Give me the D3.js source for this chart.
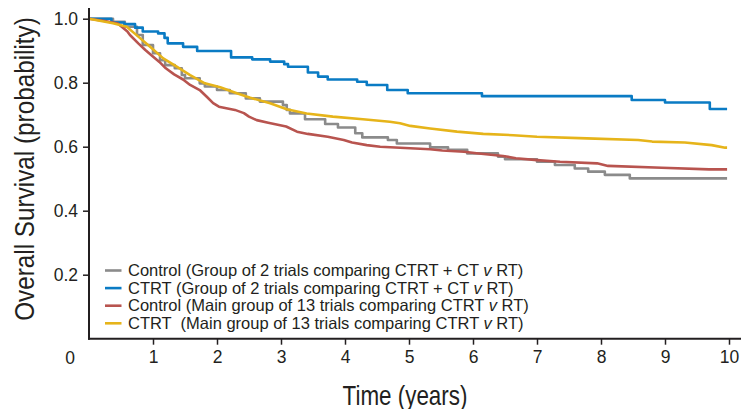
<!DOCTYPE html>
<html>
<head>
<meta charset="utf-8">
<script src="https://cdn.jsdelivr.net/npm/d3@7"></script>
<style>
  body { margin: 0; background: #fff; }
  svg text { fill: #231f20; white-space: pre; }
</style>
</head>
<body>
<script>
// survival curves (time in years, survival probability)
var grayT = [0, 0.375, 0.56, 0.75, 0.84, 1.0, 1.11, 1.19, 1.34, 1.45, 1.5, 1.73, 1.81, 2.0, 2.2, 2.45, 2.67, 3.03, 3.09, 3.14, 3.375, 3.69, 3.89, 4.16, 4.27, 4.67, 4.81, 5.33, 5.61, 5.91, 6.39, 6.5, 7.0, 7.28, 7.59, 7.8, 8.06, 8.45, 9.97];
var grayS = [1.0, 0.99, 0.975, 0.949, 0.918, 0.892, 0.87, 0.855, 0.845, 0.824, 0.814, 0.798, 0.788, 0.777, 0.767, 0.751, 0.741, 0.73, 0.715, 0.704, 0.686, 0.671, 0.66, 0.642, 0.629, 0.621, 0.61, 0.598, 0.59, 0.579, 0.569, 0.561, 0.553, 0.543, 0.532, 0.522, 0.512, 0.501, 0.501];

var blueT = [0, 0.35, 0.55, 0.72, 0.84, 1.08, 1.18, 1.23, 1.47, 1.69, 2.22, 2.55, 2.83, 3.05, 3.11, 3.42, 3.58, 3.73, 4.19, 4.34, 4.66, 4.98, 6.14, 8.48, 9.0, 9.7, 9.97];
var blueS = [1.0, 0.988, 0.983, 0.972, 0.96, 0.954, 0.94, 0.923, 0.912, 0.899, 0.879, 0.873, 0.866, 0.858, 0.85, 0.832, 0.819, 0.81, 0.803, 0.793, 0.777, 0.767, 0.758, 0.746, 0.738, 0.718, 0.718];

var redT = [0, 0.25, 0.45, 0.6, 0.64, 0.77, 0.88, 0.98, 1.1, 1.2, 1.33, 1.47, 1.58, 1.73, 1.84, 1.94, 2.03, 2.28, 2.42, 2.5, 2.62, 2.8, 3.08, 3.25, 3.42, 3.73, 3.98, 4.11, 4.34, 4.55, 5.33, 5.52, 5.86, 6.09, 6.47, 6.67, 7.0, 7.36, 7.94, 8.11, 8.95, 9.69, 9.97];
var redS = [1.0, 0.993, 0.985, 0.96, 0.949, 0.923, 0.902, 0.885, 0.865, 0.845, 0.826, 0.81, 0.793, 0.777, 0.756, 0.736, 0.725, 0.715, 0.705, 0.694, 0.683, 0.675, 0.663, 0.647, 0.64, 0.631, 0.621, 0.613, 0.605, 0.6, 0.592, 0.588, 0.584, 0.579, 0.571, 0.564, 0.558, 0.553, 0.548, 0.54, 0.534, 0.529, 0.529];

var yellowT = [0, 0.375, 0.59, 0.77, 0.95, 1.16, 1.37, 1.58, 1.81, 2.05, 2.31, 2.52, 2.83, 3.09, 3.4, 3.81, 4.28, 4.7, 4.86, 5.02, 5.33, 5.75, 6.16, 6.63, 7.0, 7.78, 8.58, 8.8, 9.31, 9.73, 9.94, 9.97];
var yellowS = [1.0, 0.986, 0.975, 0.944, 0.913, 0.876, 0.85, 0.824, 0.798, 0.786, 0.767, 0.753, 0.736, 0.717, 0.704, 0.694, 0.686, 0.678, 0.673, 0.665, 0.657, 0.647, 0.64, 0.636, 0.631, 0.626, 0.621, 0.616, 0.613, 0.605, 0.597, 0.597];

var legendLabels = [
  "Control (Group of 2 trials comparing CTRT + CT ",
  "CTRT (Group of 2 trials comparing CTRT + CT ",
  "Control (Main group of 13 trials comparing CTRT ",
  "CTRT  (Main group of 13 trials comparing CTRT "
];
var xTicks = [1, 2, 3, 4, 5, 6, 7, 8, 9, 10];
var yTicks = [0.2, 0.4, 0.6, 0.8, 1.0];

var series = [
  {t: grayT, s: grayS, color: "#8b8b8b", step: true},
  {t: blueT, s: blueS, color: "#0a7bc4", step: true},
  {t: redT, s: redS, color: "#b8544f", step: false},
  {t: yellowT, s: yellowS, color: "#e6b41a", step: false}
];

var w = 741, h = 409;
var svg = d3.select("body").append("svg")
  .attr("width", w)
  .attr("height", h);

var x = d3.scaleLinear().domain([0, 10]).range([89, 729]);
var y = d3.scaleLinear().domain([0, 1]).range([338.7, 18.7]);

var font = "'Liberation Sans', Arial, sans-serif";

// curves
series.forEach(function(d) {
  var pts = d.t.map(function(t, i) { return [t, d.s[i]]; });
  var line = d3.line()
    .x(function(p) { return x(p[0]); })
    .y(function(p) { return y(p[1]); })
    .curve(d.step ? d3.curveStepAfter : d3.curveLinear);
  svg.append("path")
    .datum(pts)
    .attr("d", line)
    .attr("fill", "none")
    .attr("stroke", d.color)
    .attr("stroke-width", 2.6)
    .attr("stroke-linejoin", "round");
});

// axes
var xAxis = svg.append("g")
  .attr("transform", "translate(0,338.7)")
  .call(d3.axisBottom(x).tickValues(xTicks).tickSize(6).tickPadding(6).tickFormat(d3.format("d")));
xAxis.select(".domain").remove();
svg.append("line")
  .attr("x1", 88).attr("x2", 741).attr("y1", 338.7).attr("y2", 338.7)
  .attr("stroke", "#231f20").attr("stroke-width", 2);

var yAxis = svg.append("g")
  .attr("transform", "translate(89,0)")
  .call(d3.axisLeft(y).tickValues(yTicks).tickSize(6).tickPadding(5).tickFormat(d3.format(".1f")));
yAxis.select(".domain").remove();
svg.append("line")
  .attr("x1", 89).attr("x2", 89).attr("y1", 8).attr("y2", 339.7)
  .attr("stroke", "#231f20").attr("stroke-width", 2);

svg.selectAll(".tick line").attr("stroke", "#231f20").attr("stroke-width", 1.5);
svg.selectAll(".tick text")
  .style("font-family", font)
  .style("font-size", "17.5px")
  .attr("fill", "#231f20");

svg.append("text")
  .attr("x", 70).attr("y", 364)
  .attr("text-anchor", "middle")
  .style("font-family", font)
  .style("font-size", "17.5px")
  .text("0");

// axis titles (condensed look by squeezing Liberation Sans)
svg.append("text")
  .attr("transform", "translate(405,405) scale(0.83,1)")
  .attr("text-anchor", "middle")
  .style("font-family", font)
  .style("font-size", "27px")
  .text("Time (years)");

svg.append("text")
  .attr("transform", "translate(34,169) rotate(-90) scale(0.9,1)")
  .attr("text-anchor", "middle")
  .style("font-family", font)
  .style("font-size", "27px")
  .text("Overall Survival (probability)");

// legend
var legend = svg.append("g");
legendLabels.forEach(function(lab, i) {
  var ly = 270.5 + i * 17.6;
  legend.append("line")
    .attr("x1", 105).attr("x2", 121.5)
    .attr("y1", ly).attr("y2", ly)
    .attr("stroke", series[i].color)
    .attr("stroke-width", 2.6);
  var t = legend.append("text")
    .attr("x", 128).attr("y", ly + 5.5)
    .style("font-family", font)
    .style("font-size", "16.5px");
  t.append("tspan").text(lab);
  t.append("tspan").style("font-style", "italic").text("v");
  t.append("tspan").text(" RT)");
});
</script>
</body>
</html>
